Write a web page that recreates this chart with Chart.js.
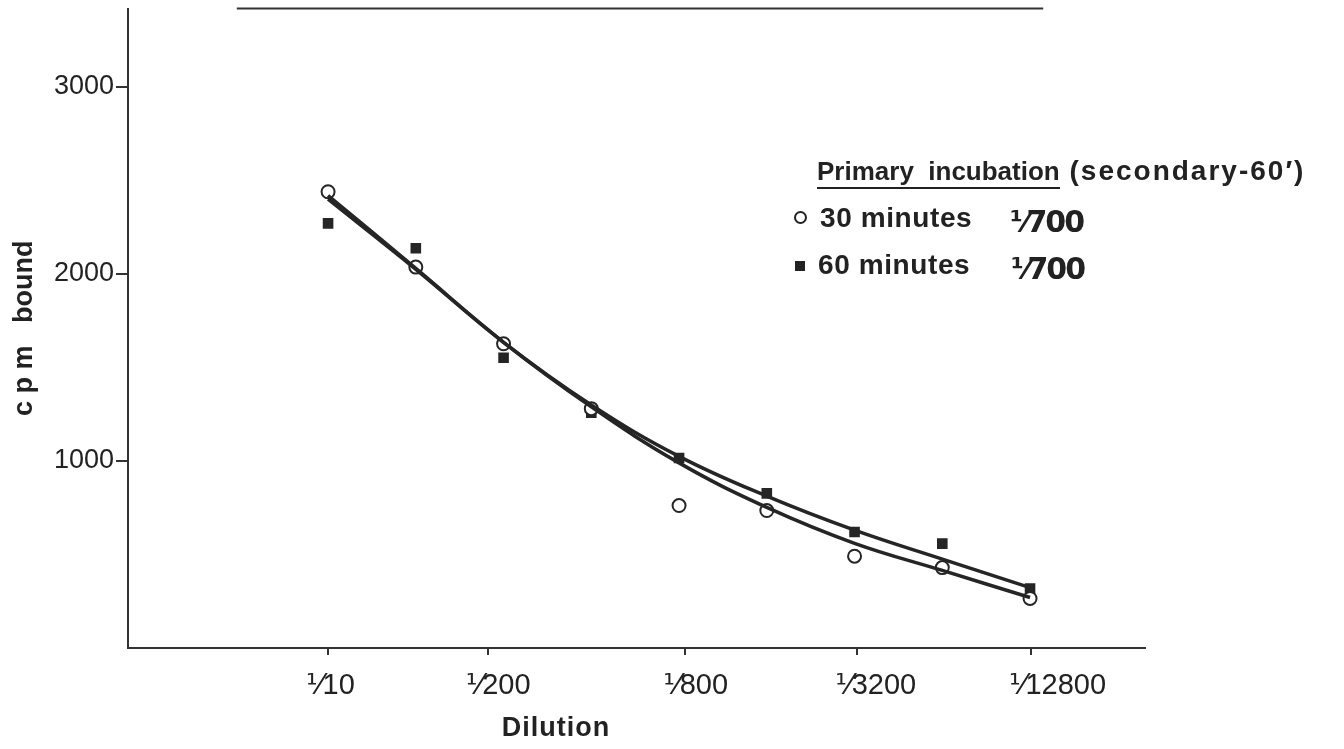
<!DOCTYPE html>
<html>
<head>
<meta charset="utf-8">
<script src="https://cdn.jsdelivr.net/npm/chart.js@4.4.1/dist/chart.umd.min.js"></script>
<style>
  body { margin: 0; background: #fff; }
  #wrap { position: relative; width: 1344px; height: 749px; font-family: "Liberation Sans", "DejaVu Sans", sans-serif; color: #222; }
  #xTitle { position: absolute; left: 496px; top: 712px; width: 120px; text-align: center; font-weight: bold; font-size: 27px; letter-spacing: 1px; }
  .leg { position: absolute; font-weight: bold; white-space: nowrap; }
  #legHead { left: 817px; top: 155px; font-size: 26px; }
  #legHead .ul { border-bottom: 2px solid #222; padding-bottom: 1px; }
  #legHead .sec { font-size: 28px; letter-spacing: 2px; }
  .row { font-size: 28px; letter-spacing: 0.6px; }
  .frac { position: absolute; left: 216px; top: 2px; font-size: 30px; font-family: "DejaVu Sans", sans-serif; letter-spacing: -2px; }
  .mk { display: inline-block; margin-right: 13px; vertical-align: 3px; box-sizing: border-box; }
  .mk.circle { border: 2px solid #222; border-radius: 50%; width: 13px; height: 13px; }
  .mk.square { background: #222; width: 10px; height: 10px; }
</style>
</head>
<body>
<div id="wrap">
  <canvas id="chart" width="1344" height="749"></canvas>
  <div id="xTitle">Dilution</div>
  <div class="leg" id="legHead"><span class="ul">Primary&nbsp;&nbsp;incubation</span><span class="sec"> (secondary-60′)</span></div>
  <div class="leg row" style="left:794px; top:202px;"><span class="mk circle"></span>30 minutes<span class="frac">⅟700</span></div>
  <div class="leg row" style="left:795px; top:249px;"><span class="mk square"></span>60 minutes<span class="frac">⅟700</span></div>
</div>
<script>
// Dilution axis: tick labels and where they sit along the sample index
const dilutionLabels = ['⅟10', '⅟200', '⅟800', '⅟3200', '⅟12800'];
const dilutionTickPos = [0, 1.82, 4.07, 6.03, 8.01];
const sampleIndex = [0, 1, 2, 3, 4, 5, 6, 7, 8];

// cpm bound, measured points
const min30Points = [2440, 2037, 1627, 1280, 762, 735, 491, 430, 265];
const min60Points = [2271, 2138, 1552, 1259, 1016, 827, 620, 558, 318];

// hand-drawn fitted curves
const min30Fit = [2420, 2030, 1635, 1290, 990, 752, 560, 415, 270];
const min60Fit = [2400, 2025, 1635, 1300, 1025, 812, 630, 475, 323];

const yTicks = [1000, 2000, 3000];
const yMax = 3420;

// top frame rule of the figure
const frameX = [-1.04, 8.15];

const ink = '#252525';
const toXY = (vals) => vals.map((v, i) => ({ x: sampleIndex[i], y: v }));

new Chart(document.getElementById('chart'), {
  type: 'scatter',
  data: {
    datasets: [
      {
        label: '30 minutes fit',
        type: 'line',
        data: toXY(min30Fit),
        borderColor: ink,
        borderWidth: 3.5,
        pointRadius: 0,
        tension: 0.4,
        fill: false
      },
      {
        label: '60 minutes fit',
        type: 'line',
        data: toXY(min60Fit),
        borderColor: ink,
        borderWidth: 3.5,
        pointRadius: 0,
        tension: 0.4,
        fill: false
      },
      {
        label: '30 minutes',
        data: toXY(min30Points),
        pointStyle: 'circle',
        pointRadius: 6.5,
        pointBorderWidth: 2,
        pointBackgroundColor: '#fff',
        pointBorderColor: ink
      },
      {
        label: '60 minutes',
        data: toXY(min60Points),
        pointStyle: 'rect',
        pointRadius: 7.5,
        pointBorderWidth: 0,
        pointBackgroundColor: ink,
        pointBorderColor: ink
      },
      {
        label: 'frame',
        type: 'line',
        data: frameX.map(x => ({ x: x, y: yMax })),
        borderColor: '#333',
        borderWidth: 2,
        pointRadius: 0,
        clip: false
      }
    ]
  },
  options: {
    responsive: false,
    animation: false,
    layout: { padding: { top: 8, right: 199, left: 0, bottom: 0 } },
    plugins: {
      legend: { display: false },
      tooltip: { enabled: false }
    },
    scales: {
      x: {
        type: 'linear',
        min: -2.28,
        max: 9.31,
        afterBuildTicks: (scale) => {
          scale.ticks = dilutionTickPos.map(v => ({ value: v }));
        },
        afterFit: (scale) => {
          scale.height = 101;
          scale.paddingLeft = 0;
          scale.paddingRight = 0;
        },
        ticks: {
          autoSkip: false,
          maxRotation: 0,
          align: 'start',
          labelOffset: -22,
          padding: 14,
          color: '#222',
          font: { family: '"Liberation Sans", "DejaVu Sans", sans-serif', size: 29 },
          callback: (value, index) => dilutionLabels[index]
        },
        grid: { drawOnChartArea: false, drawTicks: true, tickLength: 7, color: '#333', lineWidth: 2 },
        border: { display: true, color: '#333', width: 2 }
      },
      y: {
        min: 0,
        max: yMax,
        afterBuildTicks: (scale) => {
          scale.ticks = yTicks.map(v => ({ value: v }));
        },
        afterFit: (scale) => {
          scale.width = 128;
          scale.paddingTop = 0;
          scale.paddingBottom = 0;
        },
        ticks: {
          padding: 2,
          color: '#222',
          font: { family: '"Liberation Sans", "DejaVu Sans", sans-serif', size: 27 },
          callback: (value) => String(value)
        },
        grid: { drawOnChartArea: false, drawTicks: true, tickLength: 12, color: '#333', lineWidth: 2 },
        border: { display: true, color: '#333', width: 2 },
        title: {
          display: true,
          text: 'c p m   bound',
          color: '#222',
          padding: { top: 8, bottom: 0 },
          font: { family: '"Liberation Sans", sans-serif', size: 27, weight: 'bold' }
        }
      }
    }
  }
});
</script>
</body>
</html>
